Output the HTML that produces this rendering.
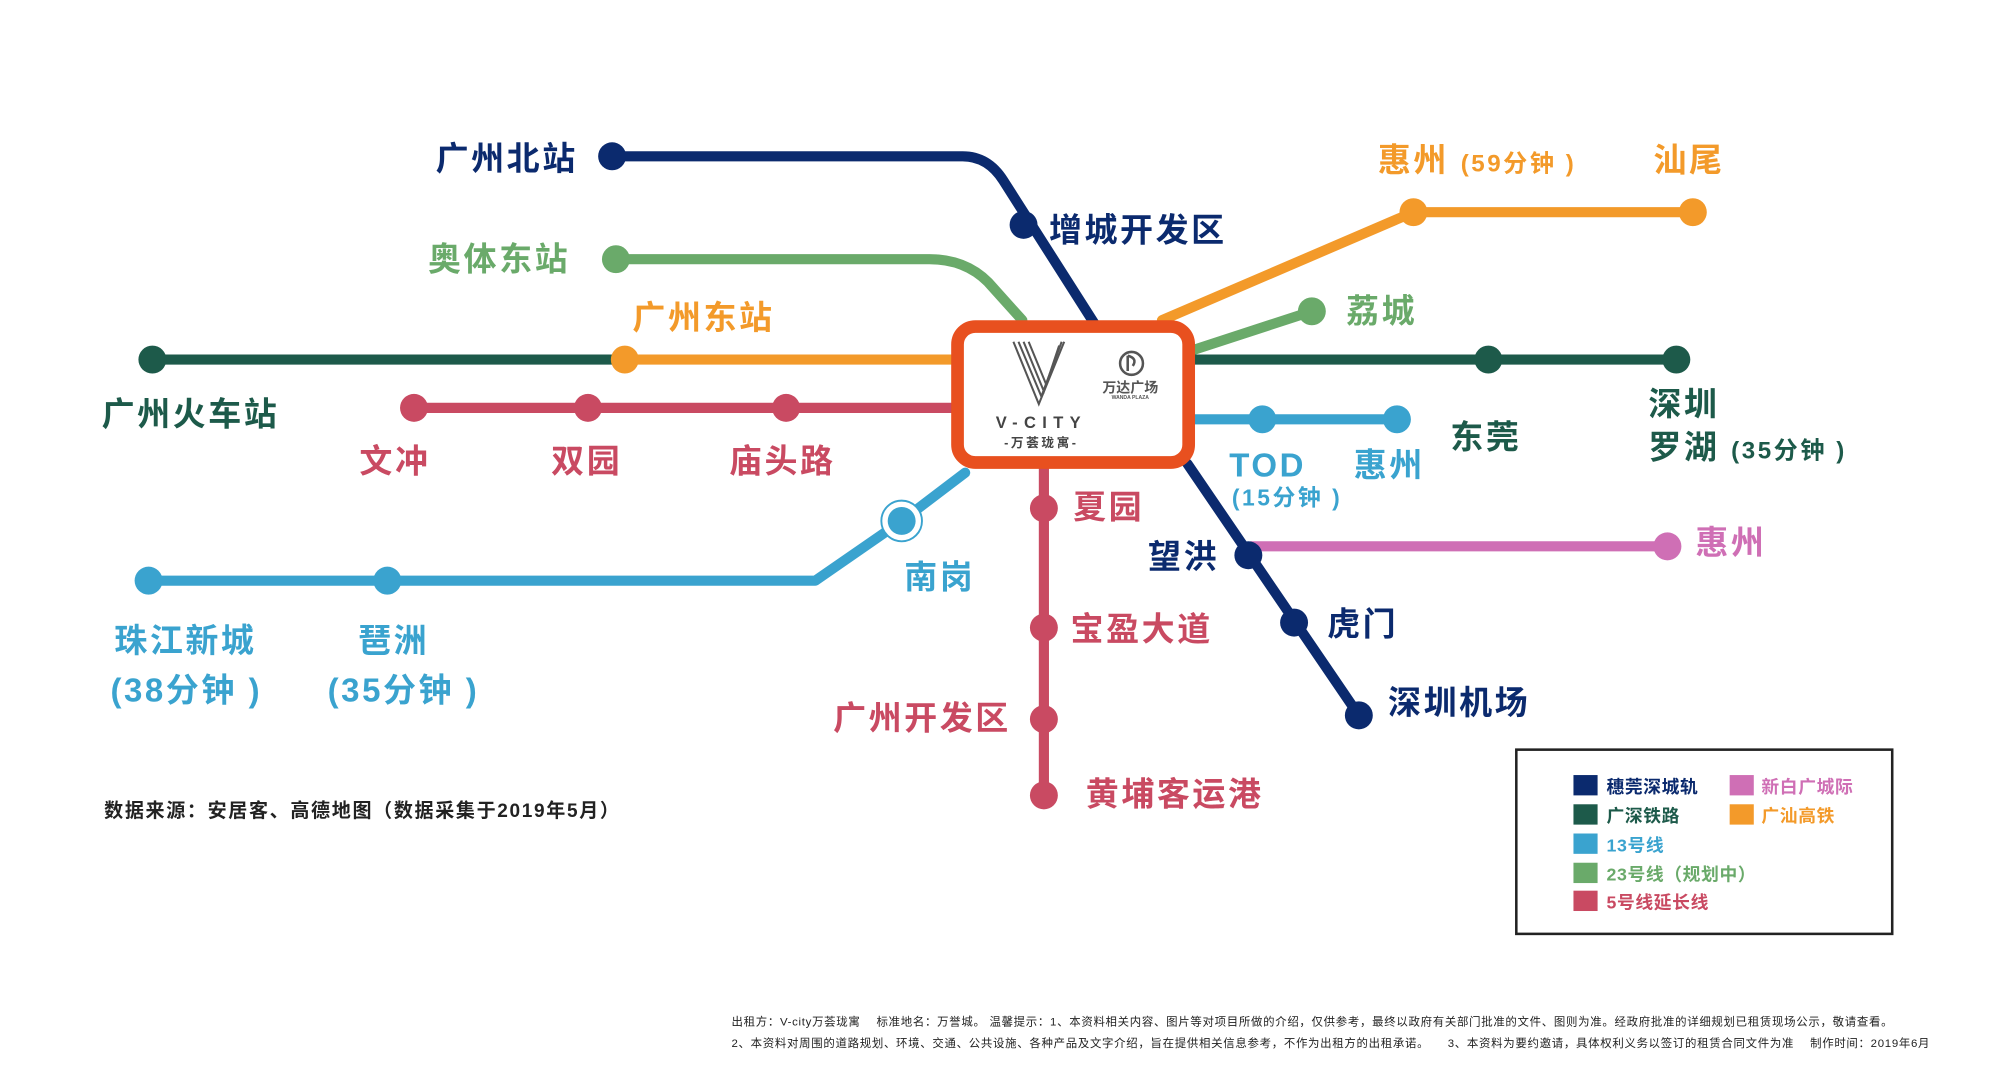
<!DOCTYPE html>
<html><head><meta charset="utf-8"><style>
html,body{margin:0;padding:0;background:#fff;}
svg{display:block;}
text{font-family:"Liberation Sans","Noto Sans CJK SC",sans-serif;font-weight:bold;}
</style></head><body>
<svg width="1990" height="1080" viewBox="0 0 1567 850" preserveAspectRatio="none" xmlns="http://www.w3.org/2000/svg">
<rect width="1567" height="850" fill="#fff"/>
<g fill="none" stroke-width="8" stroke-linecap="round" stroke-linejoin="round">
<path d="M482 123 H758 Q778 123 790 142 L862 255" stroke="#0b2a6e"/>
<path d="M935 365 L1070 563" stroke="#0b2a6e"/>
<path d="M485 204 H732 Q760 204 778 222 L805 252" stroke="#6aaa6a"/>
<path d="M938 276 L1033 245" stroke="#6aaa6a"/>
<path d="M120 283 H495" stroke="#1d5a4a"/>
<path d="M938 283 H1320" stroke="#1d5a4a"/>
<path d="M492 283 H752" stroke="#f39a2a"/>
<path d="M915 252 L1113 167 H1333" stroke="#f39a2a"/>
<path d="M326 321 H752" stroke="#c94a62"/>
<path d="M822 366 V626" stroke="#c94a62"/>
<path d="M117 457 H642 L710 410 L760 372" stroke="#3aa3cf"/>
<path d="M938 330 H1100" stroke="#3aa3cf"/>
<path d="M985 430 H1313" stroke="#cf6fb5"/>
</g>
<g>
<circle cx="482" cy="123" r="11" fill="#0b2a6e"/><circle cx="806" cy="177" r="11" fill="#0b2a6e"/>
<circle cx="983" cy="437" r="11" fill="#0b2a6e"/><circle cx="1019" cy="490" r="11" fill="#0b2a6e"/><circle cx="1070" cy="563" r="11" fill="#0b2a6e"/>
<circle cx="485" cy="204" r="11" fill="#6aaa6a"/><circle cx="1033" cy="245" r="11" fill="#6aaa6a"/>
<circle cx="120" cy="283" r="11" fill="#1d5a4a"/><circle cx="1172" cy="283" r="11" fill="#1d5a4a"/><circle cx="1320" cy="283" r="11" fill="#1d5a4a"/>
<circle cx="492" cy="283" r="11" fill="#f39a2a"/><circle cx="1113" cy="167" r="11" fill="#f39a2a"/><circle cx="1333" cy="167" r="11" fill="#f39a2a"/>
<circle cx="326" cy="321" r="11" fill="#c94a62"/><circle cx="463" cy="321" r="11" fill="#c94a62"/><circle cx="619" cy="321" r="11" fill="#c94a62"/>
<circle cx="822" cy="400" r="11" fill="#c94a62"/><circle cx="822" cy="494" r="11" fill="#c94a62"/><circle cx="822" cy="566" r="11" fill="#c94a62"/><circle cx="822" cy="626" r="11" fill="#c94a62"/>
<circle cx="117" cy="457" r="11" fill="#3aa3cf"/><circle cx="305" cy="457" r="11" fill="#3aa3cf"/>
<circle cx="710" cy="410" r="16" fill="#fff" stroke="#3aa3cf" stroke-width="1.5"/><circle cx="710" cy="410" r="11" fill="#3aa3cf"/>
<circle cx="994" cy="330" r="11" fill="#3aa3cf"/><circle cx="1100" cy="330" r="11" fill="#3aa3cf"/>
<circle cx="1313" cy="430" r="11" fill="#cf6fb5"/>
</g>
<rect x="754" y="257" width="182" height="107" rx="14" fill="#fff" stroke="#e8501f" stroke-width="10"/>
<g stroke="#555" stroke-width="1.6" fill="none">
<path d="M798 269 L818 318 L838 269"/><path d="M802 269 L820 312 L836 269" /><path d="M806 269 L822 308 L834 272"/><path d="M810 269 L824 303"/>
</g>
<circle cx="891" cy="286" r="9" fill="none" stroke="#555" stroke-width="2"/>
<path d="M888 280 V292 M888 280 Q896 282 892 288" stroke="#555" stroke-width="2" fill="none"/>
<text x="890" y="309" font-size="11" fill="#555" text-anchor="middle">万达广场</text>
<text x="890" y="314" font-size="4" fill="#555" text-anchor="middle">WANDA PLAZA</text>
<text x="820" y="337" font-size="13" fill="#444" text-anchor="middle" letter-spacing="5">V-CITY</text>
<text x="820" y="352" font-size="10" fill="#444" text-anchor="middle" letter-spacing="2">-万荟珑寓-</text>
<g font-size="26" letter-spacing="2">
<text x="343" y="134" fill="#0b2a6e">广州北站</text>
<text x="826" y="190" fill="#0b2a6e">增城开发区</text>
<text x="337" y="213" fill="#6aaa6a">奥体东站</text>
<text x="498" y="259" fill="#f39a2a">广州东站</text>
<text x="80" y="335" fill="#1d5a4a">广州火车站</text>
<text x="283" y="372" fill="#c94a62">文冲</text>
<text x="434" y="372" fill="#c94a62">双园</text>
<text x="574" y="372" fill="#c94a62">庙头路</text>
<text x="1085" y="135" fill="#f39a2a">惠州 <tspan font-size="19">(59分钟 )</tspan></text>
<text x="1302" y="135" fill="#f39a2a">汕尾</text>
<text x="1060" y="254" fill="#6aaa6a">荔城</text>
<text x="1142" y="353" fill="#1d5a4a">东莞</text>
<text x="1298" y="327" fill="#1d5a4a">深圳</text>
<text x="1298" y="361" fill="#1d5a4a">罗湖 <tspan font-size="19">(35分钟 )</tspan></text>
<text x="968" y="375" fill="#3aa3cf">TOD</text>
<text x="970" y="398" fill="#3aa3cf" font-size="18">(15分钟 )</text>
<text x="1066" y="375" fill="#3aa3cf">惠州</text>
<text x="845" y="408" fill="#c94a62">夏园</text>
<text x="904" y="447" fill="#0b2a6e">望洪</text>
<text x="1335" y="436" fill="#cf6fb5">惠州</text>
<text x="712" y="463" fill="#3aa3cf">南岗</text>
<text x="1045" y="500" fill="#0b2a6e">虎门</text>
<text x="843" y="504" fill="#c94a62">宝盈大道</text>
<text x="1093" y="562" fill="#0b2a6e">深圳机场</text>
<text x="656" y="574" fill="#c94a62">广州开发区</text>
<text x="855" y="634" fill="#c94a62">黄埔客运港</text>
<text x="90" y="513" fill="#3aa3cf">珠江新城</text>
<text x="282" y="513" fill="#3aa3cf">琶洲</text>
<text x="87" y="552" fill="#3aa3cf">(38分钟 )</text>
<text x="258" y="552" fill="#3aa3cf">(35分钟 )</text>
</g>
<text x="82" y="643" font-size="15" fill="#222" letter-spacing="1.3">数据来源：安居客、高德地图（数据采集于2019年5月）</text>
<rect x="1194" y="590" width="296" height="145" fill="#fff" stroke="#222" stroke-width="2"/>
<g font-size="14" letter-spacing="0.5">
<rect x="1239" y="610" width="19" height="16" fill="#0b2a6e"/><text x="1265" y="624" fill="#0b2a6e">穗莞深城轨</text>
<rect x="1362" y="610" width="19" height="16" fill="#cf6fb5"/><text x="1387" y="624" fill="#cf6fb5">新白广城际</text>
<rect x="1239" y="633" width="19" height="16" fill="#1d5a4a"/><text x="1265" y="647" fill="#1d5a4a">广深铁路</text>
<rect x="1362" y="633" width="19" height="16" fill="#f39a2a"/><text x="1387" y="647" fill="#f39a2a">广汕高铁</text>
<rect x="1239" y="656" width="19" height="16" fill="#3aa3cf"/><text x="1265" y="670" fill="#3aa3cf">13号线</text>
<rect x="1239" y="679" width="19" height="16" fill="#6aaa6a"/><text x="1265" y="693" fill="#6aaa6a">23号线（规划中）</text>
<rect x="1239" y="701" width="19" height="16" fill="#c94a62"/><text x="1265" y="715" fill="#c94a62">5号线延长线</text>
</g>
<g font-size="9" fill="#222">
<text x="576" y="807" style="font-weight:normal" letter-spacing="0.55">出租方：V-city万荟珑寓　 标准地名：万誉城。 温馨提示：1、本资料相关内容、图片等对项目所做的介绍，仅供参考，最终以政府有关部门批准的文件、图则为准。经政府批准的详细规划已租赁现场公示，敬请查看。</text>
<text x="576" y="824" style="font-weight:normal" letter-spacing="0.55">2、本资料对周围的道路规划、环境、交通、公共设施、各种产品及文字介绍，旨在提供相关信息参考，不作为出租方的出租承诺。　　3、本资料为要约邀请，具体权利义务以签订的租赁合同文件为准　 制作时间：2019年6月</text>
</g>
</svg>
</body></html>
